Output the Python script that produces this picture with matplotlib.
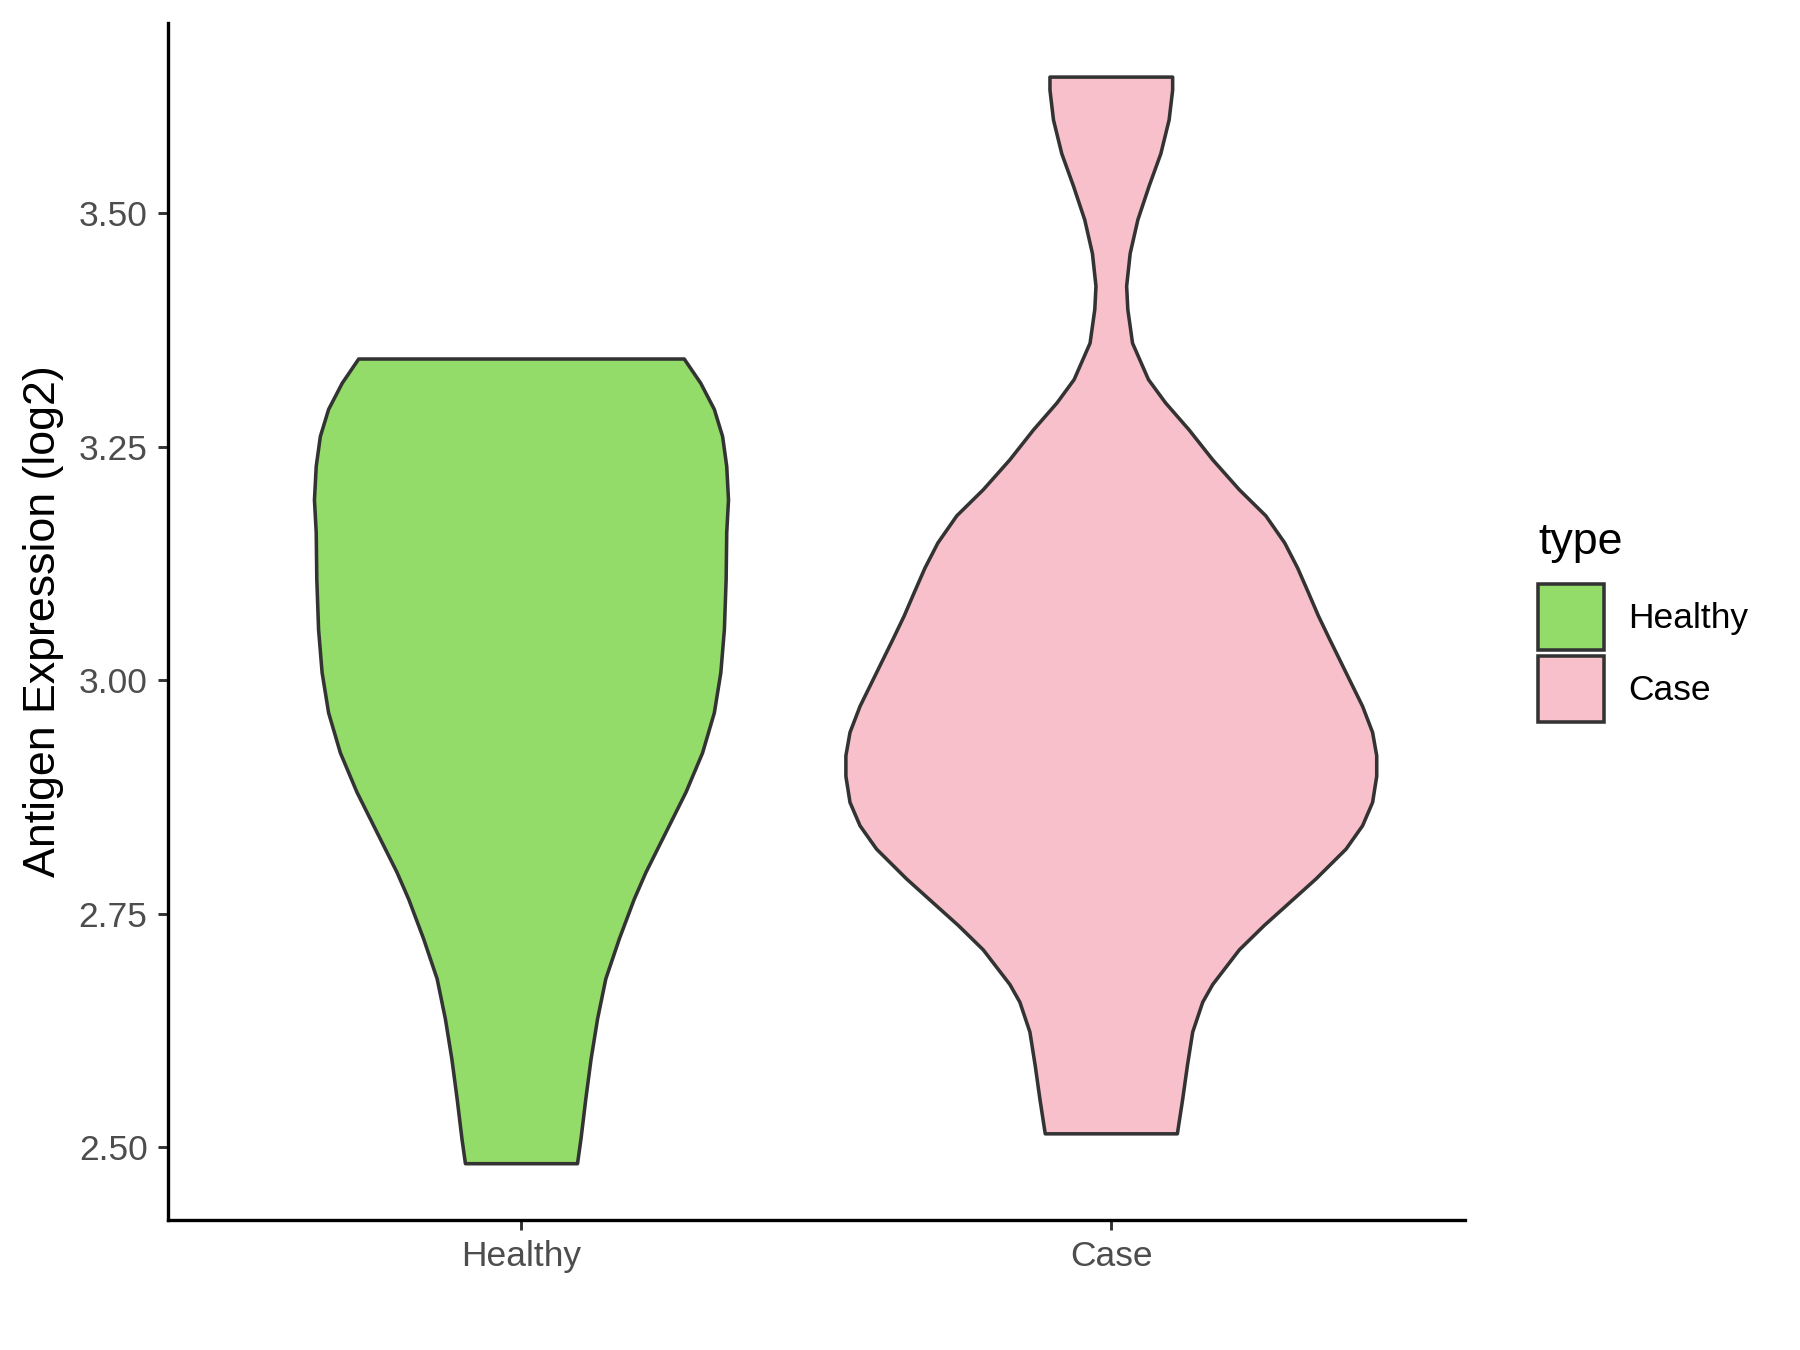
import numpy as np
import matplotlib
matplotlib.use("Agg")
import matplotlib.pyplot as plt
from matplotlib.patches import Patch

plt.rcParams['font.family'] = ['Liberation Sans', 'DejaVu Sans']

# Violin outlines: expression value and half-width (in category units)
healthy_y = [2.482, 2.509, 2.551, 2.594, 2.637, 2.680, 2.723, 2.765, 2.794, 2.837,
             2.880, 2.922, 2.965, 3.008, 3.054, 3.108, 3.158, 3.193, 3.229, 3.261,
             3.290, 3.318, 3.344]
healthy_w = [0.095, 0.101, 0.109, 0.118, 0.129, 0.143, 0.166, 0.191, 0.211, 0.245,
             0.279, 0.307, 0.327, 0.338, 0.344, 0.347, 0.348, 0.351, 0.348, 0.341,
             0.327, 0.304, 0.276]

case_y = [2.514, 2.551, 2.587, 2.623, 2.655, 2.674, 2.711, 2.737, 2.758, 2.787,
          2.819, 2.844, 2.869, 2.897, 2.919, 2.944, 2.972, 3.008, 3.044, 3.069,
          3.094, 3.120, 3.147, 3.176, 3.204, 3.236, 3.268, 3.297, 3.322, 3.361,
          3.397, 3.422, 3.457, 3.493, 3.529, 3.564, 3.600, 3.632, 3.646]
case_w = [0.112, 0.121, 0.129, 0.138, 0.155, 0.172, 0.217, 0.259, 0.296, 0.347,
          0.398, 0.426, 0.443, 0.450, 0.450, 0.443, 0.426, 0.398, 0.370, 0.351,
          0.334, 0.316, 0.294, 0.262, 0.217, 0.172, 0.132, 0.092, 0.063, 0.036,
          0.028, 0.026, 0.032, 0.045, 0.064, 0.084, 0.098, 0.104, 0.104]

groups = ['Healthy', 'Case']
colors = ['#93DC69', '#F7C0CB']
profiles = [(healthy_y, healthy_w), (case_y, case_w)]

fig = plt.figure(figsize=(12, 9), dpi=150)
ax = fig.add_axes([0.0931, 0.0963, 0.7209, 0.8867])

for i, (g, (ys, ws)) in enumerate(zip(groups, profiles)):
    pos = i + 1
    ys = np.array(ys)
    ws = np.array(ws)
    xs = np.concatenate([pos - ws, (pos + ws)[::-1]])
    yy = np.concatenate([ys, ys[::-1]])
    ax.fill(xs, yy, facecolor=colors[i], edgecolor='#333333', linewidth=1.7,
            joinstyle='round')

ax.set_xlim(0.4, 2.6)
ax.set_ylim(2.4217, 3.704)
ax.set_xticks([1, 2])
ax.set_xticklabels(groups)
ax.set_yticks([2.50, 2.75, 3.00, 3.25, 3.50])
ax.set_yticklabels(['2.50', '2.75', '3.00', '3.25', '3.50'])

for s in ['top', 'right']:
    ax.spines[s].set_visible(False)
for s in ['left', 'bottom']:
    ax.spines[s].set_linewidth(1.6)
    ax.spines[s].set_color('black')

ax.tick_params(axis='both', direction='out', length=4.6, width=1.4, color='#333333',
               labelsize=17, labelcolor='#4D4D4D', pad=5)
ax.set_ylabel('Antigen Expression (log2)', fontsize=21.5, color='black', labelpad=7)

handles = [Patch(facecolor=c, edgecolor='#333333', linewidth=1.7) for c in colors]
leg = fig.legend(handles, groups, title='type', loc='upper left',
                 bbox_to_anchor=(0.8475, 0.6225), frameon=False, fontsize=17,
                 title_fontsize=21.5, handlelength=1.85, handleheight=2.47,
                 handletextpad=0.7, labelspacing=0.195, borderpad=0.36, borderaxespad=0)
leg._legend_box.align = 'left'
# extra room between the legend title and the keys
leg._legend_box.sep = 9.9

fig.savefig('out.png', dpi=150)
